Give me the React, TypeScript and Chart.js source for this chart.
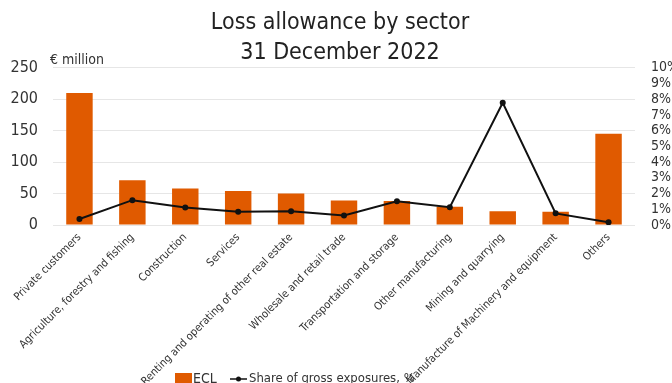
import React, { useEffect, useRef } from "react";
import { Chart, registerables } from "chart.js";

Chart.register(...registerables);

const categories = [
  "Private customers",
  "Agriculture, forestry and fishing",
  "Construction",
  "Services",
  "Renting and operating of other real estate",
  "Wholesale and retail trade",
  "Transportation and storage",
  "Other manufacturing",
  "Mining and quarrying",
  "Manufacture of Machinery and equipment",
  "Others",
];
const eclValues = [210, 71, 58, 54, 50, 39, 38, 29, 22, 21, 145];
const sharePct = [0.38, 1.58, 1.12, 0.84, 0.88, 0.61, 1.51, 1.13, 7.78, 0.74, 0.17];
const titleLines = ["Loss allowance by sector", "31 December 2022"];
const leftUnit = "€ million";
const legendBar = "ECL";
const legendLine = "Share of gross exposures, %";

const FONT = "'Liberation Sans Narrow', 'DejaVu Sans Condensed', Roboto, sans-serif";
const ORANGE = "#E05A00";
const TEXT = "#333333";

const extrasPlugin = {
  id: "extras",
  afterDraw(chart: any) {
    const ctx = chart.ctx;
    const area = chart.chartArea;
    ctx.save();
    ctx.fillStyle = TEXT;
    ctx.font = `14px ${FONT}`;
    ctx.textAlign = "left";
    ctx.textBaseline = "middle";
    ctx.fillText(leftUnit, area.left - 3, area.top - 7);

    // legend
    const ly = 379;
    ctx.fillStyle = ORANGE;
    ctx.fillRect(175, ly - 6, 17, 11);
    ctx.fillStyle = TEXT;
    ctx.font = `14px ${FONT}`;
    ctx.fillText(legendBar, 193, ly);
    ctx.strokeStyle = "#111";
    ctx.lineWidth = 1.5;
    ctx.beginPath();
    ctx.moveTo(230, ly);
    ctx.lineTo(247, ly);
    ctx.stroke();
    ctx.fillStyle = "#111";
    ctx.beginPath();
    ctx.arc(238.5, ly, 2.5, 0, Math.PI * 2);
    ctx.fill();
    ctx.fillStyle = TEXT;
    ctx.font = `13px ${FONT}`;
    ctx.fillText(legendLine, 249, ly);
    ctx.restore();
  },
};

export default function App() {
  const ref = useRef<HTMLCanvasElement | null>(null);
  useEffect(() => {
    document.body.style.margin = "0";
    const chart = new Chart(ref.current!, {
      type: "bar",
      data: {
        labels: categories,
        datasets: [
          {
            type: "line",
            label: legendLine,
            data: sharePct,
            yAxisID: "y1",
            borderColor: "#111",
            backgroundColor: "#111",
            borderWidth: 2,
            pointRadius: 3,
            pointBackgroundColor: "#111",
            pointBorderWidth: 0,
            tension: 0,
            order: 0,
          } as any,
          {
            type: "bar",
            label: legendBar,
            data: eclValues,
            yAxisID: "y",
            backgroundColor: ORANGE,
            categoryPercentage: 1,
            barPercentage: 0.5,
            order: 1,
          },
        ],
      },
      options: {
        responsive: false,
        animation: false,
        layout: { padding: { top: 0, left: 8, right: 0, bottom: 0 } },
        plugins: {
          legend: { display: false },
          tooltip: { enabled: false },
          title: {
            display: true,
            text: titleLines,
            color: "#222",
            font: { family: FONT, size: 23, weight: "normal", lineHeight: 1.3 },
            padding: { top: 8, bottom: 0 },
          },
        },
        scales: {
          x: {
            grid: { display: false },
            border: { display: false },
            ticks: {
              color: TEXT,
              font: { family: FONT, size: 11 },
              minRotation: 45,
              maxRotation: 45,
              autoSkip: false,
              padding: -2,
            },
            afterFit(scale: any) {
              scale.height = 158;
            },
          },
          y: {
            position: "left",
            min: 0,
            max: 250,
            ticks: {
              stepSize: 50,
              color: TEXT,
              font: { family: FONT, size: 16 },
              padding: 15,
            },
            grid: { color: "#e6e6e6", drawTicks: false, lineWidth: 1 },
            border: { display: false },
            afterFit(scale: any) {
              scale.width = 45;
            },
          },
          y1: {
            position: "right",
            min: 0,
            max: 10,
            ticks: {
              stepSize: 1,
              autoSkip: false,
              color: TEXT,
              font: { family: FONT, size: 14 },
              padding: 16,
              callback: (v: any) => `${v}%`,
            },
            grid: { display: false, drawTicks: false },
            border: { display: false },
            afterFit(scale: any) {
              scale.width = 37;
            },
          },
        },
      },
      plugins: [extrasPlugin],
    });
    return () => chart.destroy();
  }, []);
  return (
    <div style={{ position: "absolute", left: 0, top: 0, width: 672, height: 383 }}>
      <canvas ref={ref} width={672} height={383} />
    </div>
  );
}
